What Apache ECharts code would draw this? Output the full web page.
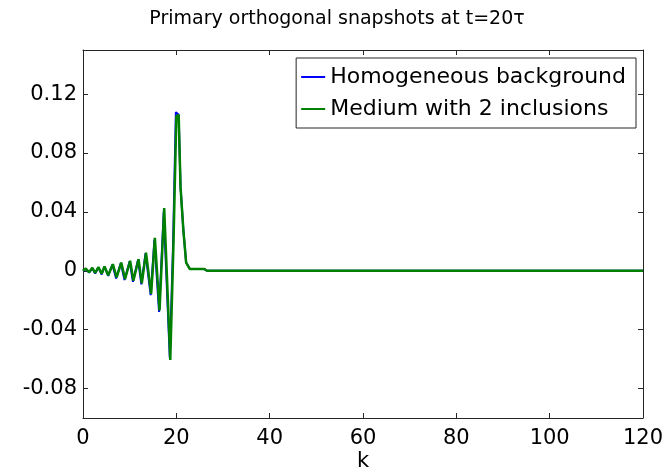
<!DOCTYPE html>
<html>
<head>
<meta charset="utf-8">
<script src="https://cdn.jsdelivr.net/npm/echarts@6/dist/echarts.min.js"></script>
<style>
  html, body { margin: 0; padding: 0; background: #fff; }
  #chart { width: 667px; height: 475px; }
</style>
</head>
<body>
<div id="chart"></div>
<script>
// Snapshot samples (k, value) for the homogeneous background
var kHomogeneous = [0, 0.6, 1.3, 2.0, 2.6, 3.3, 4.0, 4.6, 5.4, 6.3, 7.1, 8.1, 8.9, 10.0, 10.7, 11.8, 12.5, 13.4, 14.5, 15.3, 16.3, 17.3, 18.6, 19.3, 19.9, 20.5, 20.9, 21.5, 22.1, 22.9, 26.0, 26.6, 120];
var vHomogeneous = [0, 0.0012, -0.0012, 0.0018, -0.0018, 0.0022, -0.0025, 0.0028, -0.0035, 0.0042, -0.0052, 0.0052, -0.0062, 0.0064, -0.0075, 0.0076, -0.0092, 0.0118, -0.0165, 0.0210, -0.0280, 0.0400, -0.0590, 0.0180, 0.1078, 0.1060, 0.0570, 0.0280, 0.0056, 0.0012, 0.0012, 0, 0];

// Snapshot samples (k, value) for the medium with two inclusions
var kInclusions = [0, 0.6, 1.3, 2.0, 2.6, 3.3, 4.0, 4.6, 5.4, 6.4, 7.2, 8.2, 9.0, 10.1, 10.8, 11.9, 12.6, 13.5, 14.6, 15.4, 16.4, 17.4, 18.7, 19.4, 20.0, 20.5, 20.9, 21.5, 22.1, 22.9, 26.0, 26.6, 120];
var vInclusions = [0, 0.0015, -0.0010, 0.0020, -0.0015, 0.0025, -0.0020, 0.0030, -0.0030, 0.0045, -0.0045, 0.0056, -0.0056, 0.0068, -0.0067, 0.0079, -0.0085, 0.0124, -0.0157, 0.0224, -0.0270, 0.0426, -0.0605, 0.0200, 0.1050, 0.1060, 0.0570, 0.0280, 0.0056, 0.0012, 0.0012, 0, 0];

var seriesNames = ['Homogeneous background', 'Medium with 2 inclusions'];
var xTicks = [0, 20, 40, 60, 80, 100, 120];
var yTicks = [-0.08, -0.04, 0, 0.04, 0.08, 0.12];

function pairs(ks, vs) {
  return ks.map(function (k, i) { return [k, vs[i]]; });
}

var FONT = '"DejaVu Sans", sans-serif';
var AXIS_COLOR = '#262626';

var chart = echarts.init(document.getElementById('chart'), null, { renderer: 'canvas' });

var gridBox = { left: 83, right: 24, top: 50, bottom: 57 };

function xAxisDef(pos, showLabels) {
  return {
    type: 'value', position: pos, min: 0, max: 120,
    axisLine: { show: true, onZero: false, lineStyle: { color: AXIS_COLOR, width: 1 } },
    axisTick: { show: true, inside: true, length: 5, customValues: xTicks, lineStyle: { color: AXIS_COLOR } },
    axisLabel: { show: showLabels, customValues: xTicks, color: '#000', fontFamily: FONT, fontSize: 21, margin: 10 },
    splitLine: { show: false }
  };
}

function yAxisDef(pos, showLabels) {
  return {
    type: 'value', position: pos, min: -0.1, max: 0.15,
    axisLine: { show: true, onZero: false, lineStyle: { color: AXIS_COLOR, width: 1 } },
    axisTick: { show: true, inside: true, length: 5, customValues: yTicks, lineStyle: { color: AXIS_COLOR } },
    axisLabel: {
      show: showLabels, customValues: yTicks, color: '#000', fontFamily: FONT, fontSize: 21, margin: 6,
      formatter: function (v) { return String(+v.toFixed(2)); }
    },
    splitLine: { show: false }
  };
}

chart.setOption({
  animation: false,
  backgroundColor: '#fff',
  title: {
    text: 'Primary orthogonal snapshots at t=20\u03c4',
    left: 332, top: 5, textAlign: 'center',
    textStyle: { fontFamily: FONT, fontSize: 19, fontWeight: 'normal', color: '#000' }
  },
  grid: gridBox,
  xAxis: [xAxisDef('bottom', true), xAxisDef('top', false)],
  yAxis: [yAxisDef('left', true), yAxisDef('right', false)],
  legend: {
    orient: 'vertical',
    right: 31, top: 58,
    data: seriesNames,
    itemWidth: 24, itemHeight: 2, itemGap: 10,
    padding: [8, 10, 8, 4],
    backgroundColor: '#fff',
    borderColor: AXIS_COLOR, borderWidth: 1,
    textStyle: { fontFamily: FONT, fontSize: 22, color: '#000' }
  },
  graphic: [{
    type: 'text', left: 357, top: 451,
    style: { text: 'k', fontFamily: FONT, fontSize: 21, fill: '#000' }
  }],
  series: [{
    name: seriesNames[0], type: 'line', symbol: 'none',
    data: pairs(kHomogeneous, vHomogeneous),
    lineStyle: { color: '#0000ff', width: 2 }, itemStyle: { color: '#0000ff' }, z: 2
  }, {
    name: seriesNames[1], type: 'line', symbol: 'none',
    data: pairs(kInclusions, vInclusions),
    lineStyle: { color: '#008000', width: 2.5 }, itemStyle: { color: '#008000' }, z: 3
  }]
});
</script>
</body>
</html>
